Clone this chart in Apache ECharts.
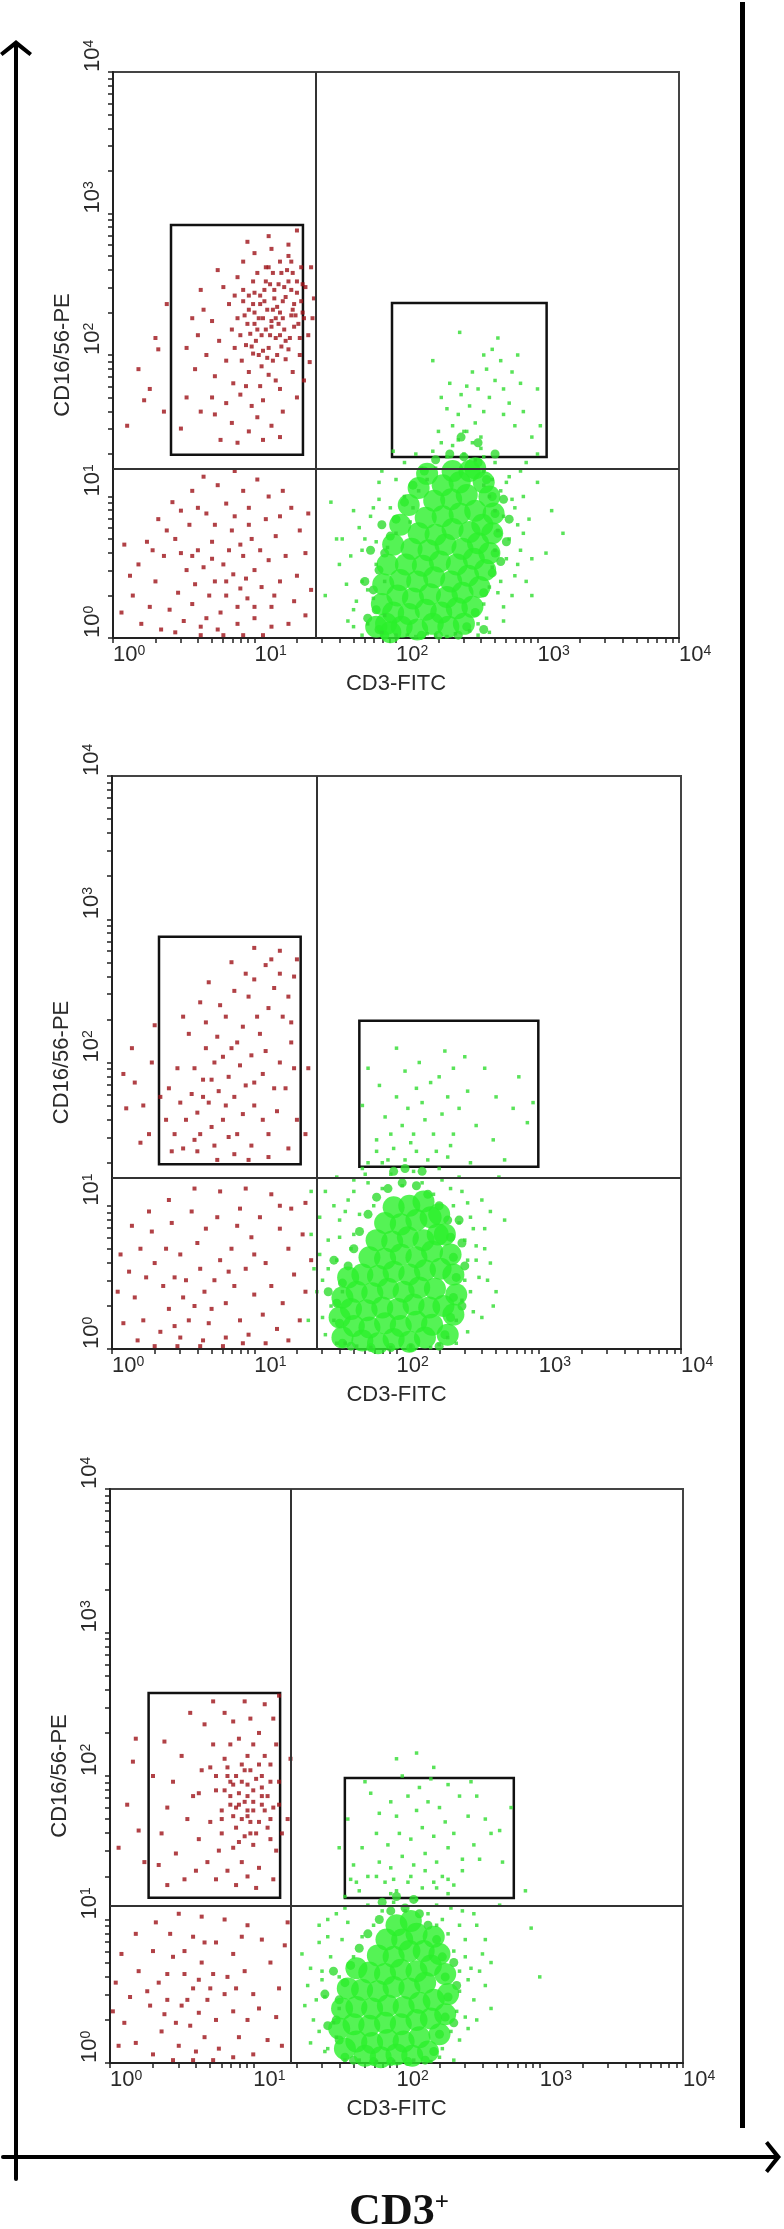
<!DOCTYPE html>
<html>
<head>
<meta charset="utf-8">
<title>CD3 / CD16/56 flow cytometry</title>
<script src="https://cdn.jsdelivr.net/npm/echarts@6.0.0/dist/echarts.min.js"></script>
<style>
  html, body { margin: 0; padding: 0; background: #fff; }
  #chart { width: 784px; height: 2229px; }
</style>
</head>
<body>
<div id="chart"></div>
<script>
// events, stored as pairs of log10(value)*100: x, y, x, y ...
// panel 1
var p1RedNK = [108,218, 112,224, 101,210, 118,230, 95,222, 104,236, 115,212, 122,241, 99,201, 110,205, 126,228, 90,214, 107,246, 117,250, 113,196, 96,232, 121,218, 103,226, 128,236, 86,205, 109,232, 119,206, 100,244, 124,252, 92,238, 114,240, 105,192, 130,244, 88,226, 111,214, 97,215, 120,226, 106,203, 116,234, 102,218, 125,212, 94,207, 113,258, 108,262, 131,222, 84,218, 99,252, 118,266, 127,258, 91,196, 110,186, 122,197, 104,178, 96,188, 115,182,
  75,210, 80,196, 70,224, 82,236, 78,248, 66,200, 72,185, 85,180, 60,214, 64,232, 88,255, 92,266, 100,272, 112,275, 124,270, 133,262, 136,248, 134,230, 138,214, 132,200, 127,188, 118,176, 106,168, 98,164, 90,172, 80,166, 70,170, 58,190, 52,205, 56,226, 62,246, 74,260, 86,242, 94,178, 102,156, 112,150, 96,146, 84,152, 72,158, 62,160, 120,160, 130,170, 135,182, 88,138, 106,140, 118,142, 76,140, 52,170, 48,148, 124,278, 140,262, 142,240, 141,226, 139,195,
  18,190, 26,176, 32,204, 30,212, 22,168, 38,236, 10,150, 36,160, 95,280, 110,284, 130,288,
  104,242, 111,250, 119,258, 126,246, 133,238, 128,220, 122,210, 116,200, 109,198, 100,230, 106,226, 113,232, 120,238, 127,232, 134,250, 98,206, 93,228, 117,222, 123,260, 130,252, 110,262, 102,258, 96,242, 114,246, 105,214, 124,204, 132,212, 118,214, 107,238, 100,222, 92,246, 126,266, 135,226, 112,220, 121,248, 108,252, 115,226, 99,236, 129,228, 103,200];
var p1RedNeg = [85,45, 90,35, 78,52, 95,28, 72,40, 100,48, 82,62, 68,30, 92,58, 88,22, 76,18, 105,36, 110,55, 64,50, 58,38, 98,70, 84,76, 70,68, 60,62, 52,48, 46,32, 40,20, 50,12, 62,8, 74,6, 88,10, 100,14, 112,22, 118,40, 122,58, 115,72, 108,84, 96,92, 80,95, 66,88, 54,80, 44,70, 36,58, 30,40, 26,22, 20,10, 14,30, 18,52, 24,68, 32,84, 42,96, 56,104, 74,108, 92,104, 110,100, 126,92, 132,76, 136,60, 130,44, 128,26, 124,10, 136,16, 140,34, 138,88, 120,104, 102,112, 86,118, 64,114, 48,90, 38,76, 28,62, 12,44, 8,66, 6,18, 34,6, 44,4, 56,24, 66,14, 80,30, 94,42, 104,62, 86,86, 72,80, 60,92, 112,8, 106,2, 92,2, 78,2, 62,2, 96,80, 114,30, 80,40, 70,56, 90,66, 100,22, 56,58, 48,60, 118,86];
var p1GreenCore = [204,8, 215,6, 226,10, 237,8, 198,18, 209,17, 221,20, 232,18, 243,21, 201,30, 212,28, 224,31, 236,29, 247,32, 203,41, 215,40, 227,43, 239,40, 251,44, 207,52, 219,51, 231,54, 243,52, 255,56, 211,63, 223,62, 235,66, 247,63, 258,67, 216,74, 228,73, 240,77, 252,75, 261,80, 221,85, 233,86, 245,88, 256,90, 227,97, 239,98, 250,101, 233,108, 245,110, 240,118, 252,118,
  193,10, 190,24, 191,38, 194,52, 198,66, 203,80, 209,94, 216,106, 222,116, 248,10, 254,22, 259,36, 263,48, 266,60, 268,74, 269,88, 266,100, 262,110, 256,120, 196,4, 186,8];
var p1GreenMid = [188,6, 186,20, 184,34, 188,48, 192,60, 196,72, 200,84, 206,96, 212,108, 220,118, 228,126, 238,130, 248,128, 258,124, 264,112, 268,100, 270,88, 272,74, 270,60, 268,46, 262,32, 256,18, 250,8, 244,2, 192,2, 180,14, 178,40, 182,62, 190,80, 274,54, 278,68, 280,84, 276,98, 230,2, 218,2, 262,6, 258,138, 246,142, 270,130];
var p1GreenHalo = [170,20, 176,40, 168,58, 180,10, 184,28, 186,52, 178,70, 182,86, 188,98, 190,4, 192,40, 194,64, 174,78, 165,38, 160,52, 188,110, 196,92, 200,74, 192,16, 186,68,
  200,2, 214,1, 228,2, 242,3, 252,5, 222,3, 236,1, 208,2,
  258,10, 262,24, 266,36, 268,50, 270,62, 272,76, 270,90, 266,100, 262,108, 274,40, 278,56, 280,70, 276,86, 282,98, 286,80, 288,62, 284,44, 258,2, 264,14, 276,22,
  222,112, 228,120, 236,128, 248,130, 256,126, 262,118, 268,112, 274,104, 216,104, 212,92, 226,132, 244,140, 254,138, 260,134, 232,138, 270,124, 280,114, 218,120, 206,100, 210,82,
  240,150, 248,146, 256,152, 262,160, 252,164, 244,158, 266,170, 258,176, 270,182, 264,190, 274,196, 268,204, 276,176, 282,188, 246,172, 236,162, 230,146, 254,188, 280,166, 286,200, 272,212, 288,180, 260,142, 250,178, 276,158, 284,150, 238,180, 262,200, 232,170, 290,160, 300,176, 296,142,
  150,30, 158,70, 300,110, 306,60, 296,30, 310,90, 318,74, 154,96, 245,216, 226,196, 300,130, 292,124, 302,150,
  180,34, 176,62, 184,92, 172,26, 190,118, 200,112, 206,124, 214,130, 276,12, 282,30, 286,52, 290,74, 284,92, 278,110, 290,100, 294,84, 170,8, 176,2, 266,4, 272,32, 198,132, 240,136, 250,146, 262,128, 170,90, 162,70, 166,12, 296,56, 292,40, 288,118];

// panel 2
var p2RedNK = [75,180, 68,172, 82,190, 60,165, 90,198, 72,200, 64,188, 86,176, 78,160, 94,184, 56,178, 70,155, 84,210, 98,205, 62,150, 88,150, 100,170, 106,192, 52,160, 66,210, 92,225, 80,232, 104,220, 110,238, 96,246, 114,252, 120,232, 108,208, 74,218, 58,196, 48,172, 44,150, 50,140, 60,138, 72,142, 86,136, 98,142, 110,150, 116,166, 122,182, 118,200, 126,214, 124,246, 118,262, 108,268, 128,260, 112,272, 100,258, 86,250, 76,240, 66,228, 54,220, 46,196, 40,182, 38,160, 42,138, 92,164, 80,170, 70,188, 100,186, 88,214, 78,204, 64,176, 58,146, 96,132, 110,134, 124,140, 130,160, 128,196, 102,232, 94,262, 84,270, 118,278, 100,280, 62,242, 50,232, 68,256, 130,272, 126,228, 114,182, 106,160, 82,148, 74,132,
  16,186, 22,170, 28,200, 8,192, 26,150, 14,210, 30,226, 20,144, 34,176, 10,168, 136,150, 138,196];
var p2RedNeg = [65,40, 58,30, 72,48, 50,36, 80,32, 62,56, 44,50, 76,62, 54,20, 86,44, 68,18, 40,28, 94,56, 100,38, 90,20, 36,44, 30,60, 48,66, 60,74, 84,70, 98,78, 108,60, 112,44, 106,24, 96,10, 80,8, 64,6, 48,8, 34,12, 22,20, 16,36, 12,54, 20,70, 28,82, 42,88, 56,96, 74,92, 90,98, 104,92, 118,84, 124,70, 128,52, 120,32, 116,14, 132,20, 136,40, 140,62, 134,80, 126,98, 112,108, 94,112, 76,110, 58,112, 40,104, 26,96, 14,86, 6,66, 4,40, 8,18, 18,6, 30,2, 46,2, 62,2, 78,2, 92,4, 108,4, 124,6, 70,28, 52,48, 82,54, 38,70, 66,84, 100,66, 88,86, 118,100, 136,102, 24,50, 44,16];
var p2GreenCore = [176,6, 187,4, 198,7, 209,5, 220,8, 170,16, 181,15, 192,18, 203,16, 214,19, 225,17, 168,28, 179,27, 190,29, 201,28, 212,31, 223,29, 233,30, 172,40, 183,39, 194,42, 205,40, 216,43, 227,42, 176,52, 187,51, 198,54, 209,52, 220,55, 231,56, 181,64, 192,63, 203,66, 214,64, 225,68, 186,76, 197,75, 208,78, 219,76, 229,80, 192,88, 203,87, 214,90, 224,92, 198,99, 209,100, 219,103,
  236,10, 240,24, 242,38, 240,52, 238,66, 234,80, 230,94, 162,8, 160,22, 162,36, 166,50];
var p2GreenMid = [162,4, 160,18, 158,32, 162,46, 166,58, 170,70, 174,82, 180,94, 186,106, 194,112, 204,116, 214,114, 222,108, 230,100, 236,90, 238,78, 240,64, 242,50, 240,36, 238,22, 234,10, 230,2, 196,1, 210,1, 182,1, 168,2, 246,30, 248,58, 246,74, 244,90, 152,40, 156,62, 206,126, 218,124, 198,124];
var p2GreenHalo = [150,10, 154,30, 148,48, 158,62, 152,76, 160,90, 164,4, 162,40, 156,20, 146,66, 166,104, 170,80, 174,94, 146,92, 150,110, 158,120, 168,70,
  236,8, 242,20, 246,34, 248,48, 250,62, 248,76, 244,88, 240,100, 252,92, 256,72, 258,50, 254,26, 238,112, 232,118, 260,104, 262,84, 266,60, 246,110,
  182,1, 196,1, 210,2, 224,1, 172,2, 230,3,
  184,100, 190,112, 196,122, 204,114, 212,124, 218,116, 226,108, 222,132, 214,138, 206,132, 198,140, 190,130, 230,126, 236,134, 180,116, 176,126, 186,138,
  196,150, 204,156, 212,150, 220,160, 208,168, 218,172, 226,150, 232,164, 200,176, 214,182, 224,186, 236,176, 192,162, 240,150, 244,168, 230,190, 206,194, 216,200, 186,146, 250,180,
  188,184, 176,170, 262,196, 270,176, 282,168, 292,158, 296,172, 286,190, 248,204, 234,208, 200,210, 180,196, 256,156, 268,146, 276,132, 240,196,
  140,110, 138,20, 270,40, 276,90, 272,120,
  158,4, 148,22, 152,56, 144,40, 160,78, 164,96, 170,110, 178,122, 252,40, 256,62, 254,84, 250,102, 262,70, 264,48, 260,22, 244,120, 228,138, 210,144, 194,132, 170,118, 242,4, 250,12, 140,80, 142,56, 266,96, 268,30, 252,130, 238,142, 180,130, 156,100];

// panel 3
var p3RedNK = [90,180, 96,172, 84,186, 100,190, 92,196, 78,176, 104,168, 88,164, 98,204, 110,186, 82,200, 94,158, 106,200, 74,190, 86,150, 100,152, 112,170, 70,168, 96,214, 108,214, 80,212, 90,226, 104,230, 114,240, 98,240, 86,238, 72,222, 64,204, 58,186, 54,170, 62,156, 76,148, 92,140, 104,136, 116,148, 118,196, 116,222, 108,250, 94,252, 80,244, 66,236, 50,214, 44,196, 40,178, 36,160, 46,146, 60,134, 74,128, 88,124, 102,122, 114,128, 120,160, 118,180, 112,208, 100,222, 84,222, 70,206, 62,188, 68,140, 82,134, 96,130, 52,128, 40,124, 34,138, 30,200, 38,224, 56,244, 72,252, 118,256, 86,172, 96,186, 106,180, 78,160, 92,208, 102,160, 84,196, 74,200, 112,156, 98,168,
  12,180, 20,162, 16,210, 24,140, 6,150, 18,226, 124,170, 126,212,
  88,178, 94,182, 100,176, 106,186, 92,170, 84,180, 96,194, 102,198, 90,188, 80,190, 108,176, 98,160, 86,194, 94,204, 104,208, 112,196, 78,170, 90,154, 100,182, 110,164, 82,206, 96,176, 106,192, 88,200, 114,178];
var p3RedNeg = [62,35, 56,26, 68,44, 50,40, 74,30, 58,52, 46,28, 80,48, 66,18, 40,44, 86,36, 52,62, 72,62, 64,70, 44,74, 34,56, 28,40, 36,22, 48,12, 60,8, 76,10, 90,18, 96,30, 100,48, 94,64, 86,76, 74,84, 58,88, 42,90, 30,78, 20,64, 14,46, 10,28, 18,14, 30,6, 44,2, 58,2, 72,2, 86,4, 100,6, 110,16, 116,32, 118,52, 112,70, 106,86, 96,96, 80,100, 64,102, 48,104, 32,98, 18,90, 8,76, 4,56, 2,36, 6,12, 120,12, 122,82, 124,98, 54,44, 70,52, 82,60, 38,34, 62,58, 88,52, 26,50, 52,78, 66,84, 104,38, 92,88, 40,62];
var p3GreenCore = [178,5, 189,4, 200,6, 211,5, 172,15, 183,14, 194,16, 205,15, 216,18, 170,27, 181,26, 192,28, 203,27, 214,30, 224,31, 172,39, 183,38, 194,40, 205,39, 216,42, 226,44, 176,51, 187,50, 198,53, 209,52, 220,56, 181,63, 192,62, 203,65, 214,64, 224,68, 187,75, 198,74, 209,78, 219,78, 193,86, 204,86, 214,90, 200,96, 210,99,
  164,10, 160,24, 162,38, 166,52, 172,66, 222,8, 230,20, 234,34, 236,48, 234,62, 230,76, 226,88];
var p3GreenMid = [164,4, 160,16, 158,30, 160,44, 164,56, 168,68, 174,80, 180,90, 188,100, 196,106, 206,108, 216,104, 222,96, 228,86, 232,74, 234,60, 236,46, 234,32, 230,20, 226,8, 220,2, 196,1, 208,1, 184,1, 170,2, 240,28, 242,54, 240,70, 152,26, 150,48, 156,64, 200,116, 212,114, 190,112];
var p3GreenHalo = [152,10, 156,28, 150,46, 160,60, 154,74, 162,86, 164,2, 160,38, 158,18, 148,64, 166,98, 170,74, 176,88, 146,84, 152,100, 142,30, 138,54, 134,76,
  232,10, 238,22, 242,36, 244,50, 244,64, 240,78, 236,90, 232,100, 248,86, 252,66, 254,44, 250,24, 228,110, 256,96, 260,76, 262,54, 246,106, 266,38,
  186,1, 198,1, 212,2, 224,1, 174,2, 230,4,
  184,96, 190,106, 198,112, 206,106, 214,114, 222,104, 228,96, 218,122, 208,126, 200,120, 192,126, 180,110, 174,120, 226,126, 236,118, 186,130,
  180,130, 188,140, 196,136, 204,144, 212,138, 220,146, 228,140, 236,150, 194,152, 202,160, 210,156, 218,164, 226,158, 234,168, 186,160, 176,150, 170,138, 200,172, 214,176, 222,182, 208,186, 196,182, 188,174, 230,178, 240,160, 246,142, 250,172, 244,186, 182,188, 216,192, 232,130, 198,128, 168,128, 254,152, 262,170, 246,134, 256,186, 236,194, 204,200, 224,198, 240,124, 258,142, 266,160, 252,196,
  272,162, 280,178, 226,206, 214,216, 200,212, 178,196, 166,170, 160,150, 274,140, 290,120, 294,94, 300,60, 272,110,
  150,8, 146,22, 144,44, 148,58, 152,88, 158,104, 164,116, 172,126, 244,16, 248,32, 250,58, 248,74, 244,96, 238,108, 256,30, 258,64, 254,104, 240,2, 236,128, 228,122, 146,96, 140,66, 164,108, 262,86, 266,70, 140,14, 136,40, 210,130, 220,134, 196,118];

// quadrant cut-offs (CD3, CD16/56) and gates [x1, y1, x2, y2] per panel
var quadX = [27.2, 27.3, 18.3];
var quadY = [15.6, 15.8, 12.4];
var nkGate = [[2.57, 19.7, 22.0, 829], [2.14, 19.5, 21.2, 755], [1.86, 14.2, 15.4, 379]];
var nktGate = [[93.7, 19.0, 1160, 233], [54.8, 18.7, 993, 196], [43.6, 14.1, 659, 96.8]];

var decades = [1, 10, 100, 1000, 10000];
var minorSteps = [2, 3, 4, 5, 6, 7, 8, 9];

var panels = [
  { redNK: p1RedNK, redNeg: p1RedNeg, core: p1GreenCore, mid: p1GreenMid, halo: p1GreenHalo },
  { redNK: p2RedNK, redNeg: p2RedNeg, core: p2GreenCore, mid: p2GreenMid, halo: p2GreenHalo },
  { redNK: p3RedNK, redNeg: p3RedNeg, core: p3GreenCore, mid: p3GreenMid, halo: p3GreenHalo }
];
var panelBoxes = [
  { left: 113, top: 72, width: 566, height: 566 },
  { left: 112, top: 776, width: 569, height: 573 },
  { left: 110, top: 1489, width: 573, height: 574 }
];

var red = '#9e1218';
var green = '#2af02a';
var greenDot = '#30dc30';
var ink = '#2a2a2a';
var sans = '"Liberation Sans", Arial, sans-serif';
var serif = '"Liberation Serif", "Times New Roman", serif';
var chevron = 'path://M0,13L16,0L32,13L29.5,16L16,5.5L2.5,16Z';

function pts(a) {
  var out = [];
  for (var i = 0; i + 1 < a.length; i += 2) {
    out.push([Math.pow(10, a[i] / 100), Math.pow(10, a[i + 1] / 100)]);
  }
  return out;
}

var tickValues = [];
decades.forEach(function(d, i) {
  tickValues.push(d);
  if (i < decades.length - 1) {
    minorSteps.forEach(function(m) { tickValues.push(d * m); });
  }
});

function expLabel(v) {
  return '{b|10}{s|' + Math.round(Math.log(v) / Math.LN10) + '}';
}

function logAxis(i, isY) {
  return {
    type: 'log',
    logBase: 10,
    gridIndex: i,
    min: 1,
    max: 10000,
    name: isY ? 'CD16/56-PE' : 'CD3-FITC',
    nameLocation: 'middle',
    nameGap: isY ? 38 : 35,
    nameTextStyle: { fontSize: 22, fontFamily: sans, color: ink },
    axisLine: { show: true, onZero: false, lineStyle: { color: '#222', width: 2 } },
    axisTick: { show: true, length: 5, customValues: tickValues, lineStyle: { color: '#222', width: 1.5 } },
    minorTick: { show: false },
    splitLine: { show: false },
    axisLabel: {
      customValues: decades,
      formatter: expLabel,
      rotate: isY ? 90 : 0,
      align: 'left',
      margin: isY ? 9 : 6,
      rich: {
        b: { fontSize: 22, fontFamily: sans, color: ink },
        s: { fontSize: 14, fontFamily: sans, color: ink, verticalAlign: 'top' }
      }
    }
  };
}

function dots(i, data, symbol, size, color) {
  return {
    type: 'scatter', xAxisIndex: i, yAxisIndex: i, silent: true,
    symbol: symbol, symbolSize: size,
    itemStyle: { color: color },
    data: pts(data)
  };
}

var grids = [], xAxes = [], yAxes = [], series = [];

panels.forEach(function(p, i) {
  var box = panelBoxes[i];
  grids.push({
    left: box.left, top: box.top, width: box.width, height: box.height,
    show: true, borderColor: '#444', borderWidth: 2,
    containLabel: false, outerBoundsMode: 'none'
  });
  xAxes.push(logAxis(i, false));
  yAxes.push(logAxis(i, true));

  var g1 = nkGate[i], g2 = nktGate[i];
  var neg = dots(i, p.redNeg, 'rect', 4, red);
  neg.markLine = {
    silent: true,
    symbol: ['none', 'none'],
    label: { show: false },
    lineStyle: { type: 'solid', color: '#333', width: 2 },
    data: [{ xAxis: quadX[i] }, { yAxis: quadY[i] }]
  };
  neg.markArea = {
    silent: true,
    itemStyle: { color: 'rgba(0,0,0,0)', borderColor: '#111', borderWidth: 2.5 },
    label: { show: false },
    data: [
      [{ coord: [g1[0], g1[1]] }, { coord: [g1[2], g1[3]] }],
      [{ coord: [g2[0], g2[1]] }, { coord: [g2[2], g2[3]] }]
    ]
  };
  series.push(neg);
  series.push(dots(i, p.redNK, 'rect', 4, red));
  series.push(dots(i, p.mid, 'circle', 9, greenDot));
  series.push(dots(i, p.core, 'circle', 22, green));
  series.push(dots(i, p.halo, 'rect', 3.5, greenDot));
});

// outer CD3+ arrow (horizontal) and the vertical arrow on the left
grids.push({ left: 3, width: 774, top: 2100, height: 57, outerBoundsMode: 'none' });
xAxes.push({
  type: 'value', gridIndex: 3, min: 0, max: 1,
  name: '{a|CD3}{p|+}',
  nameLocation: 'middle',
  nameGap: 34,
  nameTextStyle: {
    padding: [0, 0, 0, 18],
    rich: {
      a: { fontSize: 44, fontWeight: 'bold', fontFamily: serif, color: '#111' },
      p: { fontSize: 25, fontWeight: 'bold', fontFamily: serif, color: '#111', verticalAlign: 'top' }
    }
  },
  axisLine: {
    show: true, onZero: false,
    symbol: ['none', chevron], symbolSize: [32, 16], symbolOffset: [0, -4],
    lineStyle: { color: '#000', width: 4 }
  },
  axisTick: { show: false }, axisLabel: { show: false }, splitLine: { show: false }
});
yAxes.push({ type: 'value', gridIndex: 3, min: 0, max: 1, show: false });

grids.push({ left: 16, width: 20, top: 44, bottom: 50, outerBoundsMode: 'none' });
xAxes.push({ type: 'value', gridIndex: 4, min: 0, max: 1, show: false });
yAxes.push({
  type: 'value', gridIndex: 4, min: 0, max: 1,
  axisLine: {
    show: true, onZero: false,
    symbol: ['none', chevron], symbolSize: [32, 16], symbolOffset: [0, -4],
    lineStyle: { color: '#000', width: 4 }
  },
  axisTick: { show: false }, axisLabel: { show: false }, splitLine: { show: false }
});

var chart = echarts.init(document.getElementById('chart'), null, { renderer: 'canvas' });
chart.setOption({
  animation: false,
  backgroundColor: '#fff',
  grid: grids,
  xAxis: xAxes,
  yAxis: yAxes,
  series: series,
  graphic: [{
    type: 'rect', silent: true,
    shape: { x: 740, y: 2, width: 5, height: 2126 },
    style: { fill: '#000' }
  }]
});
window.addEventListener('resize', function() { chart.resize(); });
</script>
</body>
</html>
